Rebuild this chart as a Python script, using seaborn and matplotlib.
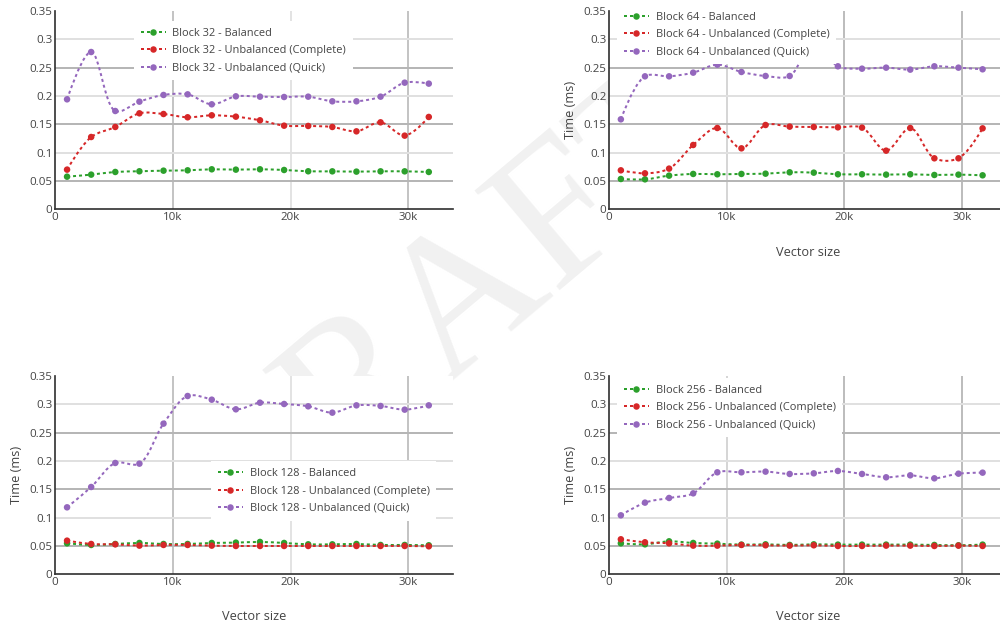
import numpy as np
import matplotlib
matplotlib.use("Agg")
import matplotlib.pyplot as plt
from matplotlib.path import Path
from matplotlib.patches import PathPatch
from matplotlib.lines import Line2D
import seaborn as sns

# ---------------- data ----------------
vector_size = [1024, 3072, 5120, 7168, 9216, 11264, 13312, 15360,
               17408, 19456, 21504, 23552, 25600, 27648, 29696, 31744]

b32_balanced = [0.0576, 0.0612, 0.0659, 0.0671, 0.0682, 0.0688, 0.0706, 0.0700,
                0.0706, 0.0694, 0.0671, 0.0670, 0.0665, 0.0670, 0.0670, 0.0659]
b32_complete = [0.0700, 0.1276, 0.1453, 0.1694, 0.1682, 0.1624, 0.1659, 0.1635,
                0.1571, 0.1476, 0.1471, 0.1453, 0.1376, 0.1535, 0.1300, 0.1630]
b32_quick = [0.1941, 0.2776, 0.1735, 0.1900, 0.2018, 0.2029, 0.1853, 0.1994,
             0.1988, 0.1982, 0.1988, 0.1906, 0.1906, 0.1988, 0.2235, 0.2218]

b64_balanced = [0.0535, 0.0529, 0.0594, 0.0624, 0.0618, 0.0624, 0.0629, 0.0653,
                0.0647, 0.0618, 0.0618, 0.0612, 0.0618, 0.0606, 0.0612, 0.0600]
b64_complete = [0.0688, 0.0635, 0.0718, 0.1135, 0.1435, 0.1076, 0.1488, 0.1459,
                0.1453, 0.1447, 0.1441, 0.1035, 0.1435, 0.0900, 0.0900, 0.1429]
b64_quick = [0.1588, 0.2347, 0.2347, 0.2412, 0.2553, 0.2424, 0.2353, 0.2353,
             0.2950, 0.2524, 0.2482, 0.2500, 0.2465, 0.2524, 0.2500, 0.2471]

b128_balanced = [0.0547, 0.0518, 0.0535, 0.0553, 0.0535, 0.0535, 0.0553, 0.0559,
                 0.0571, 0.0553, 0.0529, 0.0529, 0.0535, 0.0518, 0.0518, 0.0512]
b128_complete = [0.0594, 0.0535, 0.0529, 0.0506, 0.0518, 0.0518, 0.0506, 0.0500,
                 0.0500, 0.0500, 0.0500, 0.0500, 0.0500, 0.0500, 0.0500, 0.0494]
b128_quick = [0.1182, 0.1541, 0.1965, 0.1953, 0.2659, 0.3147, 0.3082, 0.2912,
              0.3029, 0.3006, 0.2965, 0.2853, 0.2982, 0.2971, 0.2906, 0.2982]

b256_balanced = [0.0547, 0.0529, 0.0582, 0.0553, 0.0541, 0.0524, 0.0529, 0.0518,
                 0.0529, 0.0524, 0.0524, 0.0524, 0.0524, 0.0518, 0.0512, 0.0524]
b256_complete = [0.0618, 0.0565, 0.0547, 0.0506, 0.0506, 0.0518, 0.0512, 0.0506,
                 0.0512, 0.0500, 0.0500, 0.0506, 0.0506, 0.0500, 0.0506, 0.0500]
b256_quick = [0.1041, 0.1265, 0.1347, 0.1429, 0.1800, 0.1800, 0.1812, 0.1771,
              0.1782, 0.1824, 0.1771, 0.1712, 0.1747, 0.1694, 0.1776, 0.1794]

block_sizes = ["32", "64", "128", "256"]
series_names = ["Balanced", "Unbalanced (Complete)", "Unbalanced (Quick)"]
series_colors = ["#2ca02c", "#d62728", "#9467bd"]

y_ticks = [0, 0.05, 0.1, 0.15, 0.2, 0.25, 0.3, 0.35]
y_tick_labels = ["0", "0.05", "0.1", "0.15", "0.2", "0.25", "0.3", "0.35"]
x_ticks = [0, 10000, 20000, 30000]
x_tick_labels = ["0", "10k", "20k", "30k"]

y_title = "Time (ms)"
x_title = "Vector size"
watermark = "DRAFT"

panels = [
    (b32_balanced, b32_complete, b32_quick),
    (b64_balanced, b64_complete, b64_quick),
    (b128_balanced, b128_complete, b128_quick),
    (b256_balanced, b256_complete, b256_quick),
]

# ---------------- style ----------------
sns.set_theme(style="white")
plt.rcParams["font.family"] = ["Open Sans", "DejaVu Sans"]
TXT = "#444444"

W, H, DPI = 1000, 627, 100
fig = plt.figure(figsize=(W / DPI, H / DPI), dpi=DPI)
fig.patch.set_facecolor("white")


def px(v):
    return v * 72.0 / DPI


# watermark behind the plot areas
fig.text(0.45, 0.50, watermark, rotation=40, fontsize=px(200),
         family=["Liberation Serif", "DejaVu Serif"], color="#f1f1f1",
         ha="center", va="center", zorder=-10)

# axes geometry in pixels (left, top)
AX_W, AX_H = 398.0, 198.3
geom = [(55.0, 11.0), (608.8, 11.0), (55.0, 376.0), (608.8, 376.0)]
show_ylabel = [False, True, True, True]
show_xlabel = [False, True, True, True]
# legend box (left px, top px) in figure pixels
legend_box = [(134.0, 21.0), (617.0, 5.0), (211.0, 461.5), (617.0, 378.0)]
# vertical grid shade (10k, 20k, 30k) per column
vgrid_left = ["#c4c4c4", "#e3e3e3", "#c4c4c4"]
vgrid_right = ["#d6d6d6", "#bdbdbd", "#bdbdbd"]


def plotly_spline(ax, xs, ys, smoothness=1.0):
    pts = ax.transData.transform(np.column_stack([xs, ys]))
    n = len(pts)

    def tangent(p0, p1, p2):
        d1 = p0 - p1
        d2 = p2 - p1
        d1a = np.hypot(d1[0], d1[1]) ** 0.5
        d2a = np.hypot(d2[0], d2[1]) ** 0.5
        num = (d2a * d2a * d1 - d1a * d1a * d2) * smoothness
        den1 = 3 * d2a * (d1a + d2a)
        den2 = 3 * d1a * (d1a + d2a)
        a = p1 + (num / den1 if den1 else 0)
        b = p1 - (num / den2 if den2 else 0)
        return a, b

    tans = [tangent(pts[i - 1], pts[i], pts[i + 1]) for i in range(1, n - 1)]
    verts = [pts[0], tans[0][0], pts[1]]
    codes = [Path.MOVETO, Path.CURVE3, Path.CURVE3]
    for i in range(2, n - 1):
        verts += [tans[i - 2][1], tans[i - 1][0], pts[i]]
        codes += [Path.CURVE4] * 3
    verts += [tans[n - 3][1], pts[n - 1]]
    codes += [Path.CURVE3] * 2
    dv = ax.transData.inverted().transform(np.array(verts))
    return Path(dv, codes)


LW = px(2)
DASH = (0, (1.5, 1.5))
MS = px(6.5)
LEG_FS = px(11)

for k, (left, top) in enumerate(geom):
    ax = fig.add_axes([left / W, 1 - (top + AX_H) / H, AX_W / W, AX_H / H])
    ax.set_facecolor("white")
    ax.set_xlim(0, 33800)
    ax.set_ylim(0, 0.35)
    ax.set_xticks(x_ticks)
    ax.set_xticklabels(x_tick_labels)
    ax.set_yticks(y_ticks)
    ax.set_yticklabels(y_tick_labels)
    ax.tick_params(length=0, labelsize=px(11.5), labelcolor=TXT, pad=px(2.5))
    for s in ["top", "right"]:
        ax.spines[s].set_visible(False)
    for s in ["left", "bottom"]:
        ax.spines[s].set_color("#333333")
        ax.spines[s].set_linewidth(px(1.7))
        ax.spines[s].set_zorder(4)

    ax.grid(True, axis="both")
    for t, v in zip(ax.yaxis.get_major_ticks(), y_ticks):
        gl = t.gridline
        gl.set_linewidth(px(2))
        if v in (0.05, 0.15, 0.25):
            gl.set_color("#b6b6b6")
        elif v in (0.1, 0.2, 0.3):
            gl.set_color("#e0e0e0")
        else:
            gl.set_visible(False)
    vcols = vgrid_left if k % 2 == 0 else vgrid_right
    for t, v in zip(ax.xaxis.get_major_ticks(), x_ticks):
        gl = t.gridline
        gl.set_linewidth(px(2))
        if v == 0:
            gl.set_visible(False)
        else:
            gl.set_color(vcols[x_ticks.index(v) - 1])
    ax.set_axisbelow(True)

    handles = []
    for vals, name, col in zip(panels[k], series_names, series_colors):
        path = plotly_spline(ax, vector_size, vals)
        ax.add_patch(PathPatch(path, fill=False, edgecolor=col, linewidth=LW,
                               linestyle=DASH, capstyle="butt", zorder=2))
        sns.scatterplot(x=vector_size, y=vals, color=col, s=MS ** 2,
                        edgecolor="none", linewidth=0, zorder=3, ax=ax,
                        legend=False)
        handles.append(Line2D([], [], color=col, linewidth=LW, linestyle=DASH,
                              marker="o", markersize=MS, markeredgewidth=0,
                              label=f"Block {block_sizes[k]} - {name}"))

    lx, ly = legend_box[k]
    leg = ax.legend(handles=handles, loc="upper left",
                    bbox_to_anchor=((lx - left) / AX_W, 1 - (ly - top) / AX_H),
                    frameon=True, fancybox=False, framealpha=1.0,
                    facecolor="white", edgecolor="none",
                    fontsize=LEG_FS, handlelength=2.3, handletextpad=0.6,
                    labelspacing=0.6, borderpad=0.6, borderaxespad=0,
                    numpoints=1)
    for t in leg.get_texts():
        t.set_color(TXT)
    leg.set_zorder(10)

    if show_ylabel[k]:
        ax.set_ylabel(y_title, fontsize=px(12.8), color=TXT, va="center")
        ax.yaxis.set_label_coords(-0.097 if k % 2 else -0.0955, 0.5)
    if show_xlabel[k]:
        ax.set_xlabel(x_title, fontsize=px(12.8), color=TXT, va="center")
        ax.xaxis.set_label_coords(0.5, (AX_H - (252 - 11)) / AX_H)

fig.savefig("out.png", dpi=DPI)
